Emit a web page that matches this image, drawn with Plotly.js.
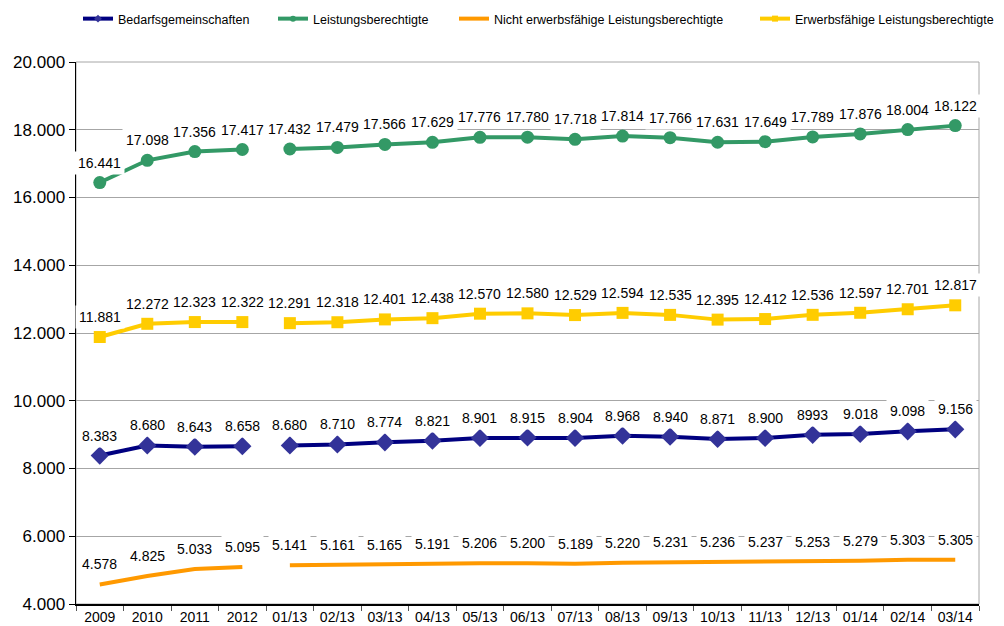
<!DOCTYPE html>
<html><head><meta charset="utf-8">
<script src="https://cdn.plot.ly/plotly-3.0.1.min.js"></script>
<style>html,body{margin:0;padding:0;background:#fff;}#chart{width:1004px;height:626px;}</style>
</head><body><div id="chart"></div>
<script>
const categories = ['2009','2010','2011','2012','01/13','02/13','03/13','04/13','05/13','06/13','07/13','08/13','09/13','10/13','11/13','12/13','01/14','02/14','03/14'];
const seriesNames = ['Bedarfsgemeinschaften','Leistungsberechtigte','Nicht erwerbsfähige Leistungsberechtigte','Erwerbsfähige Leistungsberechtigte'];
const bedarfsgemeinschaften = [8383,8680,8643,8658,8680,8710,8774,8821,8901,8915,8904,8968,8940,8871,8900,8993,9018,9098,9156];
const leistungsberechtigte = [16441,17098,17356,17417,17432,17479,17566,17629,17776,17780,17718,17814,17766,17631,17649,17789,17876,18004,18122];
const nichtErwerbsfaehige = [4578,4825,5033,5095,5141,5161,5165,5191,5206,5200,5189,5220,5231,5236,5237,5253,5279,5303,5305];
const erwerbsfaehige = [11881,12272,12323,12322,12291,12318,12401,12438,12570,12580,12529,12594,12535,12395,12412,12536,12597,12701,12817];
// label shown exactly as printed in the source (one label lacks the separator)
const labelOverrides = {0: {15: '8993'}};
const yTicks = [4000,6000,8000,10000,12000,14000,16000,18000,20000];
const splitIndex = 4; // line break between 2012 and 01/13

function fmt(v){ return String(v).replace(/\B(?=(\d{3})+(?!\d))/g,'.'); }

const FONT = 'Arial, Liberation Sans, sans-serif';
const styles = [
  {line:'#000080', marker:'#333399', symbol:'diamond', size:14, mode:'lines+markers'},
  {line:'#339966', marker:'#339966', symbol:'circle', size:13, mode:'lines+markers'},
  {line:'#FF9900', marker:'#FF9900', symbol:'circle', size:0, mode:'lines'},
  {line:'#FFCC00', marker:'#FFCC00', symbol:'square', size:12, mode:'lines+markers'}
];
const allData = [bedarfsgemeinschaften, leistungsberechtigte, nichtErwerbsfaehige, erwerbsfaehige];

const traces = [];
const annotations = [];
allData.forEach((vals, si) => {
  const st = styles[si];
  [[0, splitIndex], [splitIndex, categories.length]].forEach(([a,b]) => {
    traces.push({
      type:'scatter', mode: st.mode,
      x: categories.slice(a,b), y: vals.slice(a,b),
      line:{color:st.line, width:4},
      marker:{color:st.marker, symbol:st.symbol, size:st.size},
      showlegend:false, hoverinfo:'skip'
    });
  });
  vals.forEach((v,i) => {
    const txt = (labelOverrides[si] && labelOverrides[si][i]) ? labelOverrides[si][i] : fmt(v);
    annotations.push({
      x: i, y: v, xref:'x', yref:'y', text: txt, showarrow:false,
      yshift: 20, bgcolor:'#ffffff', borderpad:3,
      font:{family:FONT, size:14, color:'#000'}
    });
  });
});

// legend-only entries
const legendX = [78, 273, 454, 755];
const legendKeys = ['legend','legend2','legend3','legend4'];
seriesNames.forEach((name, si) => {
  const st = styles[si];
  traces.push({
    type:'scatter', mode:'lines+markers', name: name,
    x:[categories[0]], y:[null],
    line:{color:st.line, width:4},
    marker:{color:st.marker, symbol: st.symbol, size: si===2 ? 0 : 6},
    showlegend:true, legend: legendKeys[si], hoverinfo:'skip'
  });
});

const layout = {
  width:1004, height:626,
  margin:{l:76, r:25, t:62, b:22},
  paper_bgcolor:'#fff', plot_bgcolor:'#fff',
  separators:',.',
  font:{family:FONT, size:13, color:'#000'},
  xaxis:{type:'category', categoryorder:'array', categoryarray:categories,
    range:[-0.5, categories.length-0.5],
    showline:true, linecolor:'#000', linewidth:1.5,
    ticks:'outside', tickson:'boundaries', ticklen:5, tickcolor:'#555',
    showgrid:false, zeroline:false, fixedrange:true,
    tickfont:{family:FONT, size:14, color:'#000'}},
  yaxis:{range:[4000,20000], tickvals:yTicks, tickformat:',d',
    showline:true, linecolor:'#000', linewidth:1.5,
    ticks:'outside', ticklen:6, tickcolor:'#000',
    showgrid:true, gridcolor:'#a6a6a6', gridwidth:1, zeroline:false,
    tickfont:{family:FONT, size:17, color:'#000'}, fixedrange:true},
  shapes:[{type:'rect', xref:'paper', yref:'paper', x0:0, x1:1, y0:0, y1:1,
    line:{color:'#a6a6a6', width:1}, layer:'below'}],
  annotations: annotations,
  showlegend:true
};
legendKeys.forEach((k, i) => {
  layout[k] = {orientation:'h', xref:'container', yref:'container',
    x: legendX[i]/1004, xanchor:'left', y: 1 - 19/626, yanchor:'middle',
    font:{family:FONT, size:12.5, color:'#000'},
    itemwidth:30, bgcolor:'rgba(0,0,0,0)', borderwidth:0, tracegroupgap:0};
});

Plotly.newPlot('chart', traces, layout, {staticPlot:true, displayModeBar:false});
</script>
</body></html>
